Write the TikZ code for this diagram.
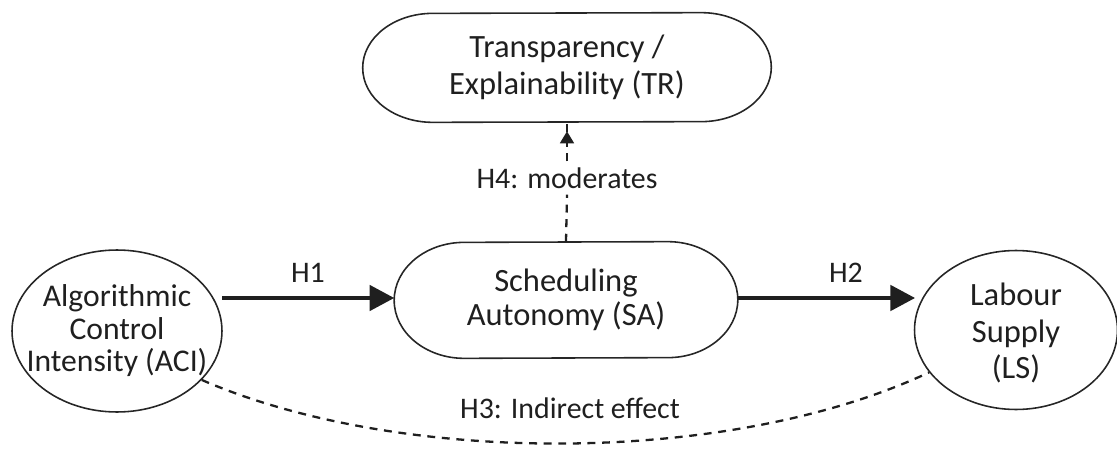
\documentclass[tikz,border=0pt]{standalone}
\usepackage{fontspec}
\setmainfont{Carlito}
\usetikzlibrary{shapes.geometric,arrows.meta}
\begin{document}
\begin{tikzpicture}[x=0.02cm,y=-0.02cm,
  every node/.style={font=\fontsize{18.5}{20}\selectfont, align=center, text=black!88},
  ell/.style={ellipse, draw=black!85, line width=0.9pt, inner sep=0pt},
  stad/.style={rectangle, inner sep=0pt},
  stadline/.style={draw=black!85, line width=0.9pt},
  lbl/.style={font=\fontsize{17}{19}\selectfont},
  thickarrow/.style={line width=1.9pt, draw=black!88, -{Triangle[length=14pt,width=14.5pt]}},
  dashline/.style={line width=1.3pt, draw=black!88, dash pattern=on 4.5pt off 3.8pt}
]
\useasboundingbox (0,0) rectangle (1117,453);
\node[ell, minimum width=4.2cm, minimum height=3.24cm] (aci) at (117,331) {};
\node[font=\fontsize{18}{18.5}\selectfont] (acitext) at (aci.center)
  {Algorithmic\\Control\\Intensity (ACI)};
\node[ell, minimum width=4.06cm, minimum height=3.18cm] (ls) at (1016,330) {};
\node[font=\fontsize{18.5}{21}\selectfont] (lstext) at ([yshift=-0.06cm]ls.center)
  {Labour\\Supply\\(LS)};
\node[stad, minimum width=6.86cm, minimum height=2.32cm, font=\fontsize{18.5}{19.5}\selectfont] (sa) at (566,300)
  {Scheduling\\Autonomy (SA)};
\node[stad, minimum width=8.16cm, minimum height=2.18cm, font=\fontsize{18.5}{21}\selectfont] (tr) at (567,67.5)
  {Transparency /\\Explainability (TR)};
% elliptical-ended outlines
\draw[stadline] ([xshift=-1.4cm]sa.north east) arc[start angle=90,end angle=-90,x radius=1.4cm,y radius=1.16cm]
  -- ([xshift=1.4cm]sa.south west) arc[start angle=270,end angle=90,x radius=1.4cm,y radius=1.16cm] -- cycle;
\draw[stadline] ([xshift=-1.4cm]tr.north east) arc[start angle=90,end angle=-90,x radius=1.4cm,y radius=1.09cm]
  -- ([xshift=1.4cm]tr.south west) arc[start angle=270,end angle=90,x radius=1.4cm,y radius=1.09cm] -- cycle;
% H1, H2
\coordinate (a1) at (222,298);
\coordinate (a2) at (915,298);
\draw[thickarrow] (a1) -- (sa.west |- a1);
\node[lbl] (h1) at (308,273) {H1};
\draw[thickarrow] (sa.east |- a1) -- (a2);
\node[lbl] (h2) at (846,273) {H2};
% H4
\node[lbl] (h4) at (567,178) {H4: moderates};
\draw[dashline] (sa.north) -- (h4.south);
\draw[dashline] (h4.north) -- (tr.south);
\draw[line width=0.8pt, draw=black!88, -{Triangle[length=6.8pt,width=8pt]}]
  ([yshift=-0.30cm]tr.south) -- ([yshift=-0.18cm]tr.south);
% H3
\draw[dashline] (aci.-30) .. controls (400,466) and (730,466) .. (ls.-154);
\node[lbl] (h3) at (570,408) {H3: Indirect effect};
\end{tikzpicture}
\end{document}
